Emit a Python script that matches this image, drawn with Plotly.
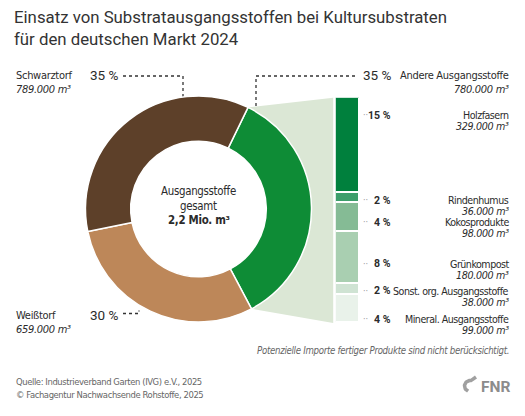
import math
import plotly.graph_objects as go

# ---------------- data ----------------
main_labels = ["Andere Ausgangsstoffe", "Weißtorf", "Schwarztorf"]
main_values = [780, 659, 789]          # thousand m³
main_colors = ["#0e8c36", "#bd8759", "#5d4029"]

sub_labels = ["Holzfasern", "Rindenhumus", "Kokosprodukte", "Grünkompost",
              "Sonst. org. Ausgangsstoffe", "Mineral. Ausgangsstoffe"]
sub_values = [329, 36, 98, 180, 38, 99]  # thousand m³
sub_colors = ["#00803d", "#3d9e6b", "#85bb95", "#a9cfb1", "#cfe3d3", "#e9f2ea"]

title = "Einsatz von Substratausgangsstoffen bei Kultursubstraten<br>für den deutschen Markt 2024"
center_lines = ["Ausgangsstoffe", "gesamt", "<b>2,2 Mio. m³</b>"]
footnote = "Potenzielle Importe fertiger Produkte sind nicht berücksichtigt."
source_lines = ["Quelle: Industrieverband Garten (IVG) e.V., 2025",
                "© Fachagentur Nachwachsende Rohstoffe, 2025"]
logo_text = "FNR"

# ---------------- layout geometry (pixels) ----------------
W, H = 525, 416
CX, CY, R = 198.5, 209.0, 113.0
HOLE = 0.6
ROT = 26
BAR_X0, BAR_X1, BAR_Y0, BAR_Y1 = 335.7, 360.0, 97.7, 323.0
sub_label_y = [115, 200, 222, 263.5, 290.5, 319]

FONT = "DejaVu Sans Condensed, sans-serif"
PFONT = "Roboto, sans-serif"
TXT = "#2b2b2b"


def px(x):
    return x / W


def py(y):
    return 1 - y / H


def sq(text, ls):
    return f"<span style='letter-spacing:{ls}px'>{text}</span>"


total = sum(main_values)
pct = lambda v: f"{round(v / total * 100)} %"
vol = lambda v: f"{v * 1000:,}".replace(",", ".") + " m³"

fig = go.Figure()

# fan connecting the green slice with the stacked bar
a0 = math.radians(ROT)
a1 = math.radians(ROT + 360 * main_values[0] / total)
n = 60
fan_x = [BAR_X0 - 2.5]
fan_y = [BAR_Y0]
for i in range(n + 1):
    a = a0 + (a1 - a0) * i / n
    fan_x.append(CX + R * math.sin(a))
    fan_y.append(CY - R * math.cos(a))
fan_x += [BAR_X0 - 2.5, BAR_X0 - 2.5]
fan_y += [BAR_Y1, BAR_Y0]
fig.add_trace(go.Scatter(x=fan_x, y=fan_y, mode="lines", fill="toself",
                         fillcolor="#dbe7d5", line=dict(width=0),
                         xaxis="x2", yaxis="y2", hoverinfo="skip", showlegend=False))


# dotted leader lines (pixel axis)
def dotted(xs, ys):
    fig.add_trace(go.Scatter(x=xs, y=ys, mode="lines",
                             line=dict(color="#333", width=1.3, dash="dot"),
                             xaxis="x2", yaxis="y2", hoverinfo="skip", showlegend=False))


dotted([123, 183, 183], [76, 76, CY - R + 2])
dotted([256, 256, 357], [CY - R + 10, 76, 76])
dotted([123, 139, 139], [313.5, 313.5, 310.5])

# logo swoosh
sw_x, sw_y = [], []
for i in range(31):
    a = math.radians(200 + 170 * i / 30)
    sw_x.append(470 + 5.5 * math.sin(a))
    sw_y.append(386 - 5.5 * math.cos(a))
fig.add_trace(go.Scatter(x=sw_x + [476], y=sw_y + [377], mode="lines",
                         line=dict(color="#a0a0a0", width=3.5),
                         xaxis="x2", yaxis="y2", hoverinfo="skip", showlegend=False))

# donut
fig.add_trace(go.Pie(values=main_values, labels=main_labels, sort=False,
                     direction="clockwise", rotation=ROT, hole=HOLE,
                     marker=dict(colors=main_colors, line=dict(color="white", width=1.5)),
                     textinfo="none", hoverinfo="label+value", showlegend=False,
                     domain=dict(x=[px(CX - R), px(CX + R)], y=[py(CY + R), py(CY - R)])))

# stacked bar
for lab, v, c in zip(sub_labels, sub_values, sub_colors):
    fig.add_trace(go.Bar(x=[0], y=[v], name=lab,
                         marker=dict(color=c, line=dict(color="white", width=1.5)),
                         width=1, xaxis="x", yaxis="y", showlegend=False))

ann = []


def t(x, y, text, size=11, color=TXT, xanchor="left", family=FONT, ls=-0.3):
    if ls:
        text = sq(text, ls)
    ann.append(dict(x=px(x), y=py(y), xref="paper", yref="paper", text=text, showarrow=False,
                    xanchor=xanchor, yanchor="middle", font=dict(size=size, color=color, family=family)))


# title
ann.append(dict(x=px(12), y=py(5), xref="paper", yref="paper", text=title, showarrow=False,
                xanchor="left", yanchor="top", align="left",
                font=dict(size=16.8, color="#333", family="Roboto, sans-serif")))

# main labels
t(14, 75.5, main_labels[2])
t(14, 89, f"<i>{vol(main_values[2])}</i>")
t(88, 75.5, pct(main_values[2]), size=13.5, family=PFONT, ls=0)
t(511, 75.5, main_labels[0], xanchor="right")
t(511, 89, f"<i>{vol(main_values[0])}</i>", xanchor="right")
t(361, 75.5, pct(main_values[0]), size=13.5, family=PFONT, ls=0)
t(14, 315.5, main_labels[1])
t(14, 329.5, f"<i>{vol(main_values[1])}</i>")
t(88, 314.5, pct(main_values[1]), size=13.5, family=PFONT, ls=0)

# center text
for yy, s in zip([190.5, 205.5, 220.5], center_lines):
    t(CX, yy, s, size=11.4, xanchor="center", ls=-0.3)

# sub labels
for lab, v, yy in zip(sub_labels, sub_values, sub_label_y):
    t(361, yy, "··", size=9, color="#999", ls=0)
    t(393, yy, f"<b>{pct(v)}</b>", size=10.5, family=PFONT, xanchor="right", ls=0)
    t(511, yy, lab, size=10.6, xanchor="right", ls=-0.5)
    t(511, yy + 11, f"<i>{vol(v)}</i>", size=10.6, xanchor="right", ls=-0.3)

t(511, 350, f"<i>{footnote}</i>", size=9.6, color="#666", xanchor="right", ls=-0.3)
t(14, 381, source_lines[0], size=9.4, color="#666", ls=-0.4)
t(14, 394.5, source_lines[1], size=9.4, color="#666", ls=-0.4)
t(512, 387, f"<b>{logo_text}</b>", size=15.5, color="#8c8c8c", xanchor="right", family=PFONT, ls=0)

fig.update_layout(
    width=W, height=H, margin=dict(l=0, r=0, t=0, b=0),
    paper_bgcolor="white", plot_bgcolor="rgba(0,0,0,0)",
    barmode="stack", bargap=0,
    annotations=ann,
    xaxis=dict(domain=[px(BAR_X0), px(BAR_X1)], range=[-0.5, 0.5], visible=False, fixedrange=True),
    yaxis=dict(domain=[py(BAR_Y1), py(BAR_Y0)], range=[sum(sub_values), 0], visible=False, fixedrange=True),
    xaxis2=dict(domain=[0, 1], range=[0, W], visible=False, fixedrange=True, anchor="y2"),
    yaxis2=dict(domain=[0, 1], range=[H, 0], visible=False, fixedrange=True, anchor="x2"),
)

fig.write_html("out.html", config={"displayModeBar": False},
               post_script="document.body.style.margin='0';")
